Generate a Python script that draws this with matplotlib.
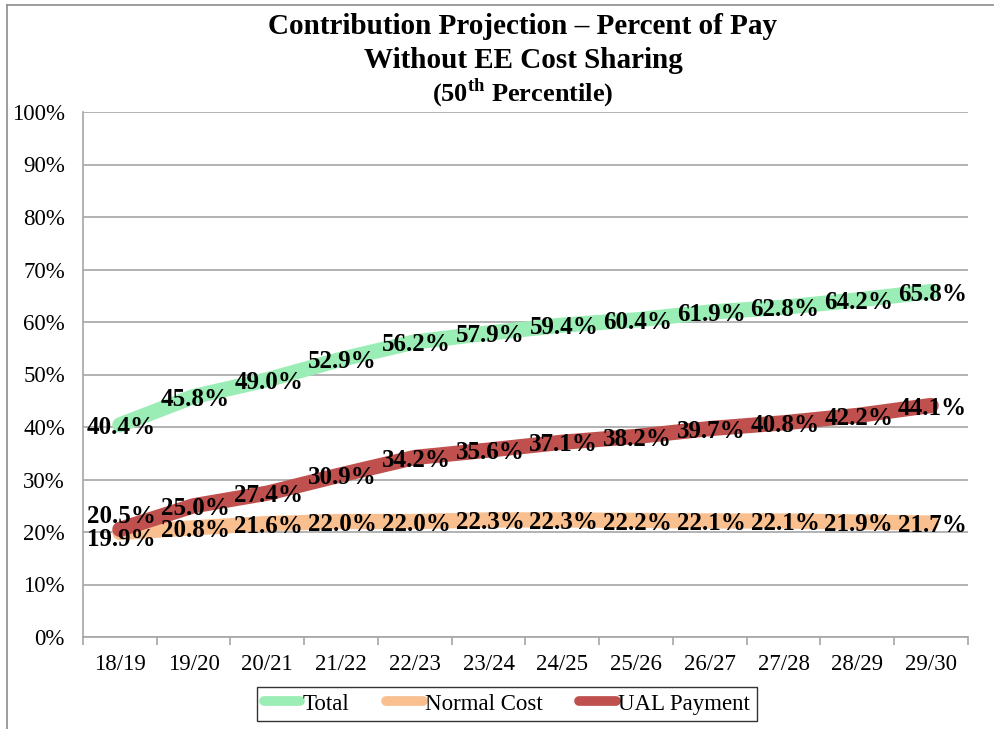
import matplotlib
matplotlib.use("Agg")
import matplotlib.pyplot as plt
import numpy as np
from matplotlib.lines import Line2D

plt.rcParams['font.family'] = ['Liberation Serif', 'DejaVu Serif']
plt.rcParams['mathtext.fontset'] = 'custom'
plt.rcParams['mathtext.bf'] = 'Liberation Serif:bold'
plt.rcParams['mathtext.rm'] = 'Liberation Serif'

# data
years = ['18/19', '19/20', '20/21', '21/22', '22/23', '23/24',
         '24/25', '25/26', '26/27', '27/28', '28/29', '29/30']
total = [40.4, 45.8, 49.0, 52.9, 56.2, 57.9, 59.4, 60.4, 61.9, 62.8, 64.2, 65.8]
normal_cost = [19.9, 20.8, 21.6, 22.0, 22.0, 22.3, 22.3, 22.2, 22.1, 22.1, 21.9, 21.7]
ual_payment = [20.5, 25.0, 27.4, 30.9, 34.2, 35.6, 37.1, 38.2, 39.7, 40.8, 42.2, 44.1]
y_ticks = [0, 10, 20, 30, 40, 50, 60, 70, 80, 90, 100]

c_total = '#9AEDB4'
c_normal = '#F9BF8F'
c_ual = '#C0504D'

W, H = 995, 729
fig = plt.figure(figsize=(W / 100, H / 100), dpi=100)

# outer frame (only top/left visible in the original crop)
fig.add_artist(Line2D([7 / W, 7 / W], [0, 1 - 5 / H], transform=fig.transFigure,
                      color='#8C8C8C', lw=1.2))
fig.add_artist(Line2D([7 / W, 1], [1 - 5 / H, 1 - 5 / H], transform=fig.transFigure,
                      color='#8C8C8C', lw=1.2))

ax = fig.add_axes([83 / W, 1 - 637 / H, (968 - 83) / W, (637 - 112) / H])
x = np.arange(len(years))

series = [(total, c_total, 'Total'),
          (normal_cost, c_normal, 'Normal Cost'),
          (ual_payment, c_ual, 'UAL Payment')]

for vals, col, name in series:
    ax.plot(x, vals, color=col, lw=11, solid_capstyle='round',
            solid_joinstyle='round', zorder=3, label=name)

# data labels
for vals, col, name in series:
    for xi, v in zip(x, vals):
        dy = -0.5
        if xi == 0 and name == 'UAL Payment':
            dy = 2.4
        elif xi == 0 and name == 'Normal Cost':
            dy = -1.3
        ax.text(xi + 0.02, v + dy, '%.1f%%' % v, ha='center', va='center',
                fontsize=18, fontweight='bold', zorder=5)

ax.set_xlim(-0.5, len(years) - 0.5)
ax.set_ylim(0, 100)
ax.set_yticks(y_ticks)
ax.set_yticklabels(['%d%%' % t for t in y_ticks], fontsize=16.5)
ax.yaxis.grid(True, color='#A6A6A6', lw=1.2)
ax.set_axisbelow(True)
ax.tick_params(axis='y', length=0, pad=13)

ax.set_xticks(x)
ax.set_xticklabels(years, fontsize=16.5)
ax.set_xticks(np.arange(-0.5, len(years), 1), minor=True)
ax.tick_params(axis='x', which='major', length=0, pad=12)
ax.tick_params(axis='x', which='minor', length=6, color='#A6A6A6', width=1.2)

for s in ['top', 'right']:
    ax.spines[s].set_visible(False)
for s in ['left', 'bottom']:
    ax.spines[s].set_color('#A6A6A6')
    ax.spines[s].set_linewidth(1.2)

# titles
fig.text(523 / W, 1 - 26 / H, 'Contribution Projection \u2013 Percent of Pay',
         ha='center', va='center', fontsize=21, fontweight='bold')
fig.text(523 / W, 1 - 60 / H, 'Without EE Cost Sharing',
         ha='center', va='center', fontsize=21, fontweight='bold')
fig.text(523 / W, 1 - 93 / H, r'(50$^{\mathbf{th}}$ Percentile)',
         ha='center', va='center', fontsize=19, fontweight='bold')

handles = [Line2D([], [], color=c, lw=7, solid_capstyle='round') for _, c, _ in series]
leg = fig.legend(handles, [n for _, _, n in series], loc='center',
                 bbox_to_anchor=(507 / W, 1 - 704 / H), ncol=3, fontsize=16.5,
                 frameon=True, fancybox=False, handlelength=1.6, handletextpad=0.1,
                 columnspacing=1.6, borderpad=0.3)
leg.get_frame().set_edgecolor('black')
leg.get_frame().set_linewidth(1.0)

fig.savefig('out.png', dpi=100)
